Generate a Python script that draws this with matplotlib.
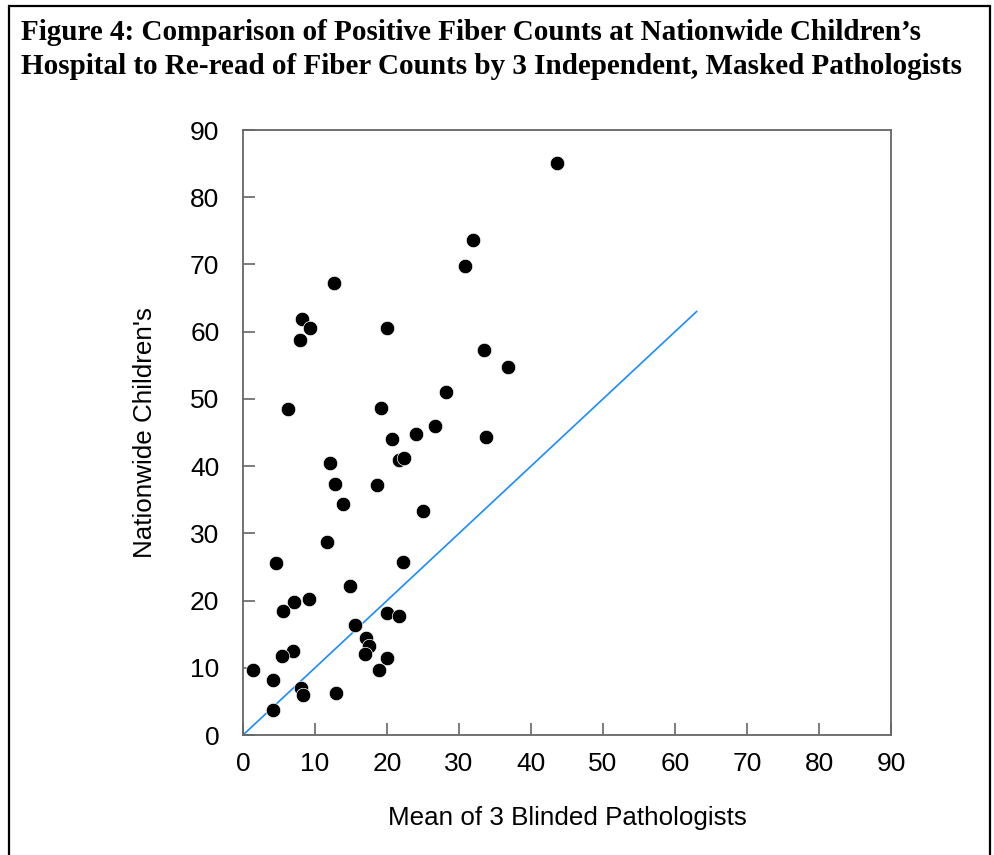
import matplotlib
matplotlib.use("Agg")
import matplotlib.pyplot as plt
from matplotlib.patches import Rectangle

plt.rcParams['font.family'] = ['Liberation Sans', 'DejaVu Sans']

# mean of the 3 blinded pathologists (x) vs Nationwide Children's count (y)
mean_blinded = [43.6, 31.9, 30.8, 12.7, 8.2, 9.3, 7.9, 20.0, 33.5, 36.8,
                6.2, 19.2, 28.2, 26.6, 20.7, 24.0, 33.8, 21.6, 22.3, 12.1,
                12.8, 18.6, 13.9, 25.0, 11.7, 4.6, 22.2, 14.8, 7.1, 9.2,
                5.6, 15.6, 20.0, 21.7, 17.1, 17.5, 17.0, 6.9, 5.4, 20.0,
                18.9, 1.4, 4.2, 8.0, 8.3, 12.9, 4.1]
nationwide = [85.1, 73.6, 69.8, 67.3, 61.9, 60.6, 58.8, 60.6, 57.2, 54.8,
              48.5, 48.6, 51.0, 45.9, 44.1, 44.8, 44.3, 40.9, 41.2, 40.5,
              37.3, 37.2, 34.3, 33.3, 28.7, 25.6, 25.8, 22.2, 19.8, 20.2,
              18.5, 16.3, 18.2, 17.7, 14.5, 13.2, 12.1, 12.5, 11.7, 11.5,
              9.7, 9.7, 8.2, 7.0, 5.9, 6.3, 3.7]
identity_line = [0, 63]

ticks = list(range(0, 91, 10))

fig = plt.figure(figsize=(9.94, 8.55), dpi=100)
ax = fig.add_axes([243 / 994, 1 - 735 / 855, 648 / 994, 605 / 855])

ax.plot(identity_line, identity_line, color='#1a8cff', lw=1.2, zorder=2)
ax.plot(mean_blinded, nationwide, 'o', ms=10.4, color='black',
        mec='white', mew=0.5, zorder=3)

ax.set_xlim(0, 90)
ax.set_ylim(0, 90)
ax.set_xticks(ticks)
ax.set_yticks(ticks)
ax.tick_params(direction='in', length=8.6, width=1.2, color='#666666',
               labelsize=19, pad=12)
ax.tick_params(axis='y', pad=17)
for s in ax.spines.values():
    s.set_color('#666666')
    s.set_linewidth(1.3)

ax.set_xlabel('Mean of 3 Blinded Pathologists', fontsize=18.7, labelpad=22)
ax.set_ylabel("Nationwide Children's", fontsize=18.7, labelpad=24)

title = ("Figure 4: Comparison of Positive Fiber Counts at Nationwide Children\u2019s\n"
         "Hospital to Re-read of Fiber Counts by 3 Independent, Masked Pathologists")
fig.text(21 / 994, 1 - 19 / 855, title, fontsize=21, fontweight='bold',
         family='Liberation Serif', va='top', ha='left', linespacing=1.33)

# frame around the whole figure
fig.patches.append(Rectangle((9 / 994, -0.05), 981 / 994, 1.05 - 6 / 855,
                             transform=fig.transFigure, fill=False,
                             ec='black', lw=1.6))

fig.savefig('out.png', dpi=100)
